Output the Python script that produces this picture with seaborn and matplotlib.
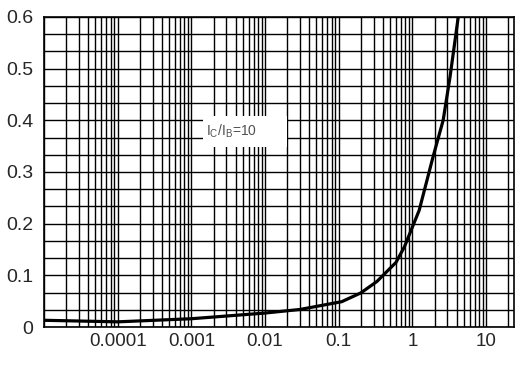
import numpy as np
import pandas as pd
import matplotlib
matplotlib.use("Agg")
import matplotlib.pyplot as plt
import seaborn as sns
from matplotlib.patches import Rectangle
from matplotlib.ticker import FixedLocator, LogLocator, NullFormatter

# Curve (Ic [A] vs Vce(sat) [V])
ic = [1e-5, 1e-4, 1e-3, 1e-2, 0.03, 0.11, 0.2, 0.33, 0.6, 0.78, 1.24, 1.9, 2.62, 3.25, 4.2]
vce = [0.013, 0.010, 0.016, 0.027, 0.034, 0.049, 0.066, 0.088, 0.125, 0.155, 0.226, 0.328, 0.40, 0.484, 0.6]

x_ticks = [1e-4, 1e-3, 1e-2, 0.1, 1, 10]
x_labels = ["0.0001", "0.001", "0.01", "0.1", "1", "10"]
y_ticks = [0, 0.1, 0.2, 0.3, 0.4, 0.5, 0.6]
y_labels = ["0", "0.1", "0.2", "0.3", "0.4", "0.5", "0.6"]

df = pd.DataFrame({"ic": ic, "vce": vce})

sns.set_style("white")
plt.rcParams['font.family'] = ['Liberation Sans', 'DejaVu Sans']

fig = plt.figure(figsize=(5.32, 3.68), dpi=100)
ax = fig.add_axes([44 / 532, 1 - 327 / 368, 470 / 532, 310 / 368])

ax.set_xscale("log")
ax.set_xlim(1e-5, 24)
ax.set_ylim(0, 0.6)

# grid: decades + 2..9 in x, every 1/30 in y
ax.xaxis.set_major_locator(FixedLocator(x_ticks))
ax.xaxis.set_minor_locator(LogLocator(base=10, subs=np.arange(1, 10), numticks=20))
ax.xaxis.set_minor_formatter(NullFormatter())
ax.set_xticks(x_ticks)
ax.set_xticklabels(x_labels)
ax.set_yticks(y_ticks)
ax.set_yticklabels(y_labels)
ax.yaxis.set_minor_locator(FixedLocator(np.arange(0, 0.6001, 0.6 / 18)))
ax.grid(True, which="both", color="black", linewidth=1.0)
ax.set_axisbelow(True)

ax.tick_params(axis="both", which="both", length=0)
ax.tick_params(axis="x", labelsize=13.5, pad=4.5)
ax.tick_params(axis="y", labelsize=14, pad=7.5)
for s in ax.spines.values():
    s.set_color("black")
    s.set_linewidth(1.2)

sns.lineplot(data=df, x="ic", y="vce", ax=ax, color="black", linewidth=2.3, zorder=5)
ax.set_xlabel("")
ax.set_ylabel("")

# white label box over the grid
ax.add_patch(Rectangle((159 / 470, 180 / 310), 84 / 470, 31 / 310,
                       transform=ax.transAxes, facecolor="white",
                       edgecolor="none", zorder=3))
ax.text(162 / 470, 196 / 310, r"I$_\mathregular{C}$/I$_\mathregular{B}$=10",
        transform=ax.transAxes, fontsize=10, color="#505050",
        va="center", ha="left", zorder=4)

fig.savefig("out.png", dpi=100)
